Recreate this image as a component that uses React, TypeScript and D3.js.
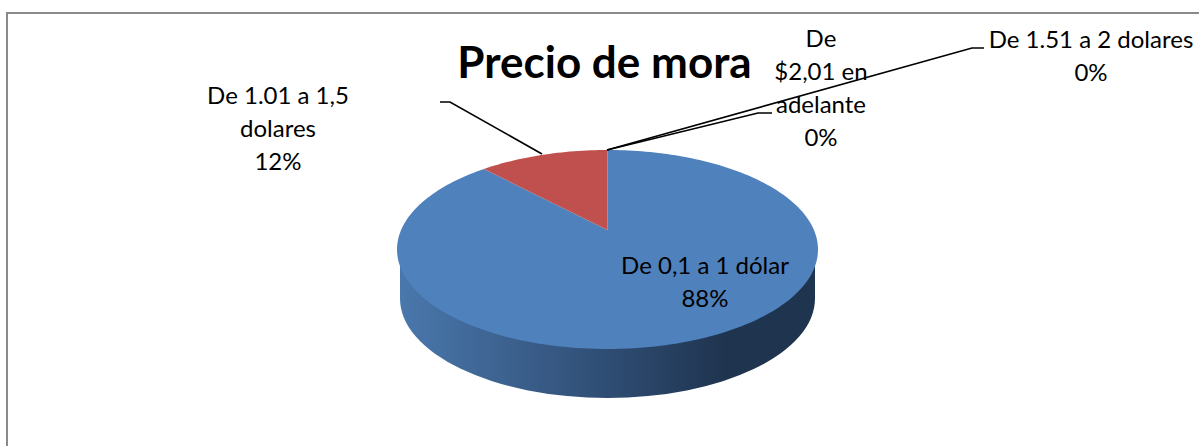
import React from "react";
import * as d3 from "d3";

const categories = ["De 0,1 a 1 dólar", "De 1.01 a 1,5 dolares", "De 1.51 a 2 dolares", "De $2,01 en adelante"];
const values = [88, 12, 0, 0];
const sliceColors = ["#4f81bd", "#c0504d", "#9bbb59", "#8064a2"];
const title = "Precio de mora";
const W = 1199;
const H = 446;

const cx = 607.5;
const cy = 249.5;
const rx = 210.5;
const ry = 99.5;
const persp = 0.196;
const depth = 49;

function project(angle: number): [number, number] {
  const x = Math.sin(angle);
  const y = Math.cos(angle);
  const d = 1 + persp * y;
  return [cx + (rx * Math.sqrt(1 - persp * persp) * x) / d, cy - (ry * (y + persp)) / d];
}
const apex: [number, number] = [cx, cy - ry * persp];

export default function App() {
  const arcs = d3.pie<number>().sort(null).value((d) => d)(values);
  const line = d3.line();
  const slicePath = (start: number, end: number) => {
    const n = Math.max(2, Math.ceil((end - start) * 40));
    const pts = d3.range(n + 1).map((i) => project(start + ((end - start) * i) / n));
    return line([apex, ...pts]) + "Z";
  };
  const labelStyle = { fontFamily: "Lato, 'Open Sans', sans-serif", fontSize: 24, fill: "#000" };
  const lines = [
    { t: ["De 0,1 a 1 dólar", "88%"], x: 705, y: 274 },
    { t: ["De 1.01 a 1,5", "dolares", "12%"], x: 278, y: 103.5 },
    { t: ["De 1.51 a 2 dolares", "0%"], x: 1091, y: 48 },
    { t: ["De", "$2,01 en", "adelante", "0%"], x: 821, y: 47 },
  ];
  return (
    <svg width={W} height={H} style={{ position: "absolute", left: 0, top: 0, background: "#fff" }}>
      <defs>
        <linearGradient id="wall" gradientUnits="userSpaceOnUse" x1={cx - rx} x2={cx + rx} y1={0} y2={0}>
          <stop offset="0" stopColor="#4a78ad" />
          <stop offset="0.5" stopColor="#2f4d73" />
          <stop offset="0.78" stopColor="#1f344f" />
          <stop offset="1" stopColor="#1f344f" />
        </linearGradient>
      </defs>
      <path d={`M${W} 13H7V${H}`} fill="none" stroke="#8a8a8a" strokeWidth={2} />
      <path
        d={`M${cx - rx + 3} ${cy}V${cy + depth}A${rx - 3} ${ry} 0 0 0 ${cx + rx - 3} ${cy + depth}V${cy}Z`}
        fill="url(#wall)"
      />
      {arcs.map((a, i) =>
        a.endAngle > a.startAngle ? (
          <path key={categories[i]} d={slicePath(a.startAngle, a.endAngle)} fill={sliceColors[i]} />
        ) : null
      )}
      <g fill="none" stroke="#000" strokeWidth={1.6}>
        <path d="M542 154L450 102H440" />
        <path d="M607 150L972 48H984" />
        <path d="M607 150L758 113H772" />
      </g>
      <text x={604.5} y={78} textAnchor="middle" fontFamily="Lato, 'Open Sans', sans-serif" fontWeight={700} fontSize={44}>
        {title}
      </text>
      {lines.map((l) => (
        <text key={l.t[0] + l.t[1]} x={l.x} textAnchor="middle" style={labelStyle}>
          {l.t.map((s, i) => (
            <tspan key={i} x={l.x} y={l.y + i * 33}>
              {s}
            </tspan>
          ))}
        </text>
      ))}
    </svg>
  );
}
